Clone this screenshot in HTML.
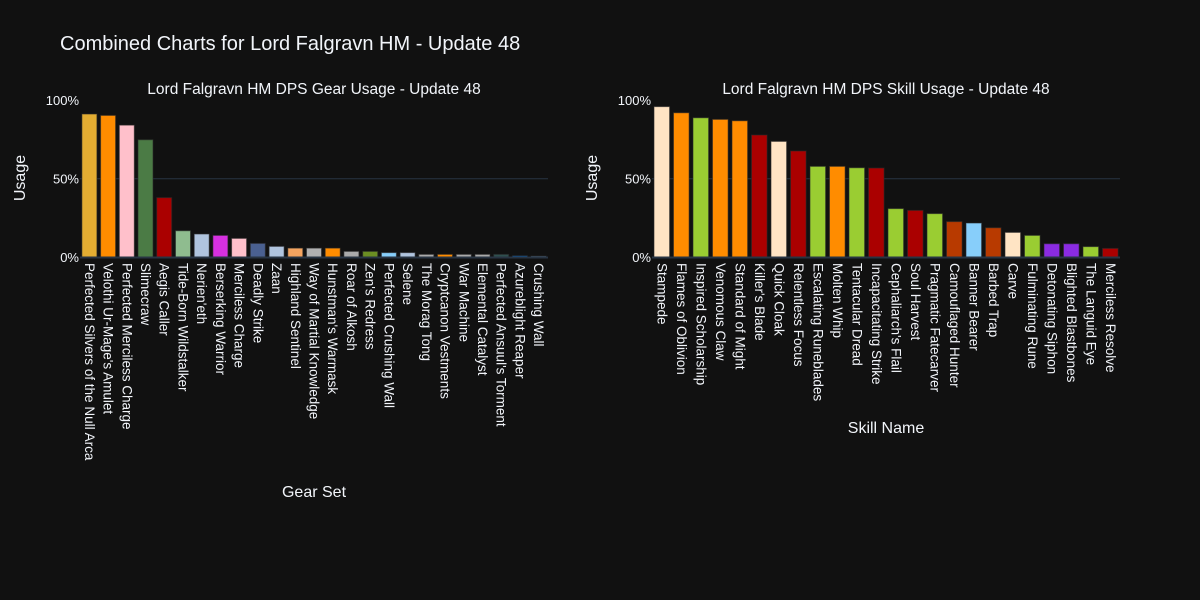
<!DOCTYPE html>
<html><head><meta charset="utf-8"><style>
html,body{margin:0;padding:0;background:#111111;}
svg{display:block;font-family:"Liberation Sans",sans-serif;}
</style></head><body>
<svg width="1200" height="600" viewBox="0 0 1200 600" xmlns="http://www.w3.org/2000/svg">
<rect width="1200" height="600" fill="#111111"/>
<text x="60" y="50" fill="#f2f5fa" font-size="20">Combined Charts for Lord Falgravn HM - Update 48</text>
<text x="314" y="94" fill="#f2f5fa" font-size="15.5" text-anchor="middle">Lord Falgravn HM DPS Gear Usage - Update 48</text>
<text x="886" y="94" fill="#f2f5fa" font-size="15.5" text-anchor="middle">Lord Falgravn HM DPS Skill Usage - Update 48</text>
<line x1="80" y1="178.7" x2="548" y2="178.7" stroke="#283442" stroke-width="1"/>
<line x1="652" y1="178.7" x2="1120" y2="178.7" stroke="#283442" stroke-width="1"/>
<g fill="#f2f5fa" font-size="13" text-anchor="end">
<text x="79" y="105">100%</text><text x="79" y="183.5">50%</text><text x="79" y="262">0%</text>
<text x="651" y="105">100%</text><text x="651" y="183.5">50%</text><text x="651" y="262">0%</text>
</g>
<text transform="translate(25,178) rotate(-90)" fill="#f2f5fa" font-size="16" text-anchor="middle">Usage</text>
<text transform="translate(597,178) rotate(-90)" fill="#f2f5fa" font-size="16" text-anchor="middle">Usage</text>
<text x="314" y="497" fill="#f2f5fa" font-size="16" text-anchor="middle">Gear Set</text>
<text x="886" y="433" fill="#f2f5fa" font-size="16" text-anchor="middle">Skill Name</text>
<g transform="translate(0,257) scale(1,-1.566)" stroke="#2a2a2a" stroke-width="1" stroke-opacity="0.6">
<rect vector-effect="non-scaling-stroke" x="81.9" y="0" width="15" height="91.3" fill="#E3AD32"/>
<rect vector-effect="non-scaling-stroke" x="100.6" y="0" width="15" height="90.4" fill="#FF8C00"/>
<rect vector-effect="non-scaling-stroke" x="119.3" y="0" width="15" height="84.2" fill="#FFC0CB"/>
<rect vector-effect="non-scaling-stroke" x="138.0" y="0" width="15" height="74.9" fill="#4B7B45"/>
<rect vector-effect="non-scaling-stroke" x="156.7" y="0" width="15" height="37.9" fill="#AA0000"/>
<rect vector-effect="non-scaling-stroke" x="175.5" y="0" width="15" height="16.8" fill="#8FBC8F"/>
<rect vector-effect="non-scaling-stroke" x="194.2" y="0" width="15" height="14.7" fill="#B0C4DE"/>
<rect vector-effect="non-scaling-stroke" x="212.9" y="0" width="15" height="13.8" fill="#D630E0"/>
<rect vector-effect="non-scaling-stroke" x="231.6" y="0" width="15" height="11.9" fill="#FFC0CB"/>
<rect vector-effect="non-scaling-stroke" x="250.3" y="0" width="15" height="8.7" fill="#4A6090"/>
<rect vector-effect="non-scaling-stroke" x="269.1" y="0" width="15" height="6.8" fill="#B0C4DE"/>
<rect vector-effect="non-scaling-stroke" x="287.8" y="0" width="15" height="5.7" fill="#F4A460"/>
<rect vector-effect="non-scaling-stroke" x="306.5" y="0" width="15" height="5.7" fill="#B0B0B0"/>
<rect vector-effect="non-scaling-stroke" x="325.2" y="0" width="15" height="5.7" fill="#FF8C00"/>
<rect vector-effect="non-scaling-stroke" x="343.9" y="0" width="15" height="3.6" fill="#AAAAAA"/>
<rect vector-effect="non-scaling-stroke" x="362.7" y="0" width="15" height="3.6" fill="#6B8E23"/>
<rect vector-effect="non-scaling-stroke" x="381.4" y="0" width="15" height="2.8" fill="#87CEFA"/>
<rect vector-effect="non-scaling-stroke" x="400.1" y="0" width="15" height="2.8" fill="#B0C4DE"/>
<rect vector-effect="non-scaling-stroke" x="418.8" y="0" width="15" height="1.7" fill="#AAAAAA"/>
<rect vector-effect="non-scaling-stroke" x="437.5" y="0" width="15" height="1.7" fill="#FF8C00"/>
<rect vector-effect="non-scaling-stroke" x="456.3" y="0" width="15" height="1.7" fill="#AAAAAA"/>
<rect vector-effect="non-scaling-stroke" x="475.0" y="0" width="15" height="1.7" fill="#AAAAAA"/>
<rect vector-effect="non-scaling-stroke" x="493.7" y="0" width="15" height="1.7" fill="#2F4F4F"/>
<rect vector-effect="non-scaling-stroke" x="512.4" y="0" width="15" height="0.8" fill="#0066CC"/>
<rect vector-effect="non-scaling-stroke" x="531.1" y="0" width="15" height="0.6" fill="#6E9AC8"/>
</g>
<g transform="translate(0,257) scale(1,-1.566)" stroke="#2a2a2a" stroke-width="1" stroke-opacity="0.6">
<rect vector-effect="non-scaling-stroke" x="654.0" y="0" width="15.6" height="96.0" fill="#FFE4C4"/>
<rect vector-effect="non-scaling-stroke" x="673.5" y="0" width="15.6" height="92.1" fill="#FF8C00"/>
<rect vector-effect="non-scaling-stroke" x="693.0" y="0" width="15.6" height="88.9" fill="#9ACD32"/>
<rect vector-effect="non-scaling-stroke" x="712.5" y="0" width="15.6" height="87.9" fill="#FF8C00"/>
<rect vector-effect="non-scaling-stroke" x="732.0" y="0" width="15.6" height="87.0" fill="#FF8C00"/>
<rect vector-effect="non-scaling-stroke" x="751.5" y="0" width="15.6" height="77.9" fill="#AA0000"/>
<rect vector-effect="non-scaling-stroke" x="771.0" y="0" width="15.6" height="73.8" fill="#FFE4C4"/>
<rect vector-effect="non-scaling-stroke" x="790.5" y="0" width="15.6" height="67.7" fill="#AA0000"/>
<rect vector-effect="non-scaling-stroke" x="810.0" y="0" width="15.6" height="57.9" fill="#9ACD32"/>
<rect vector-effect="non-scaling-stroke" x="829.5" y="0" width="15.6" height="57.9" fill="#FF8C00"/>
<rect vector-effect="non-scaling-stroke" x="849.0" y="0" width="15.6" height="57.0" fill="#9ACD32"/>
<rect vector-effect="non-scaling-stroke" x="868.5" y="0" width="15.6" height="56.8" fill="#AA0000"/>
<rect vector-effect="non-scaling-stroke" x="888.0" y="0" width="15.6" height="30.9" fill="#9ACD32"/>
<rect vector-effect="non-scaling-stroke" x="907.5" y="0" width="15.6" height="29.8" fill="#AA0000"/>
<rect vector-effect="non-scaling-stroke" x="927.0" y="0" width="15.6" height="27.7" fill="#9ACD32"/>
<rect vector-effect="non-scaling-stroke" x="946.5" y="0" width="15.6" height="22.6" fill="#B83A00"/>
<rect vector-effect="non-scaling-stroke" x="966.0" y="0" width="15.6" height="21.7" fill="#87CEFA"/>
<rect vector-effect="non-scaling-stroke" x="985.5" y="0" width="15.6" height="18.7" fill="#B83A00"/>
<rect vector-effect="non-scaling-stroke" x="1005.0" y="0" width="15.6" height="15.7" fill="#FFE4C4"/>
<rect vector-effect="non-scaling-stroke" x="1024.5" y="0" width="15.6" height="13.8" fill="#9ACD32"/>
<rect vector-effect="non-scaling-stroke" x="1044.0" y="0" width="15.6" height="8.5" fill="#8A2BE2"/>
<rect vector-effect="non-scaling-stroke" x="1063.5" y="0" width="15.6" height="8.5" fill="#8A2BE2"/>
<rect vector-effect="non-scaling-stroke" x="1083.0" y="0" width="15.6" height="6.6" fill="#9ACD32"/>
<rect vector-effect="non-scaling-stroke" x="1102.5" y="0" width="15.6" height="5.5" fill="#AA0000"/>
</g>
<line x1="80" y1="257.5" x2="548" y2="257.5" stroke="#283442" stroke-width="2"/>
<line x1="652" y1="257.5" x2="1120" y2="257.5" stroke="#283442" stroke-width="2"/>
<g fill="#f2f5fa" font-size="13.5" dominant-baseline="central">
<text transform="translate(89.4,263) rotate(90)">Perfected Silvers of the Null Arca</text>
<text transform="translate(108.1,263) rotate(90)">Velothi Ur-Mage's Amulet</text>
<text transform="translate(126.8,263) rotate(90)">Perfected Merciless Charge</text>
<text transform="translate(145.5,263) rotate(90)">Slimecraw</text>
<text transform="translate(164.2,263) rotate(90)">Aegis Caller</text>
<text transform="translate(183.0,263) rotate(90)">Tide-Born Wildstalker</text>
<text transform="translate(201.7,263) rotate(90)">Nerien'eth</text>
<text transform="translate(220.4,263) rotate(90)">Berserking Warrior</text>
<text transform="translate(239.1,263) rotate(90)">Merciless Charge</text>
<text transform="translate(257.8,263) rotate(90)">Deadly Strike</text>
<text transform="translate(276.6,263) rotate(90)">Zaan</text>
<text transform="translate(295.3,263) rotate(90)">Highland Sentinel</text>
<text transform="translate(314.0,263) rotate(90)">Way of Martial Knowledge</text>
<text transform="translate(332.7,263) rotate(90)">Hunstman's Warmask</text>
<text transform="translate(351.4,263) rotate(90)">Roar of Alkosh</text>
<text transform="translate(370.2,263) rotate(90)">Zen's Redress</text>
<text transform="translate(388.9,263) rotate(90)">Perfected Crushing Wall</text>
<text transform="translate(407.6,263) rotate(90)">Selene</text>
<text transform="translate(426.3,263) rotate(90)">The Morag Tong</text>
<text transform="translate(445.0,263) rotate(90)">Cryptcanon Vestments</text>
<text transform="translate(463.8,263) rotate(90)">War Machine</text>
<text transform="translate(482.5,263) rotate(90)">Elemental Catalyst</text>
<text transform="translate(501.2,263) rotate(90)">Perfected Ansuul's Torment</text>
<text transform="translate(519.9,263) rotate(90)">Azureblight Reaper</text>
<text transform="translate(538.6,263) rotate(90)">Crushing Wall</text>
</g>
<g fill="#f2f5fa" font-size="13.5" dominant-baseline="central">
<text transform="translate(661.8,263) rotate(90)">Stampede</text>
<text transform="translate(681.3,263) rotate(90)">Flames of Oblivion</text>
<text transform="translate(700.8,263) rotate(90)">Inspired Scholarship</text>
<text transform="translate(720.3,263) rotate(90)">Venomous Claw</text>
<text transform="translate(739.8,263) rotate(90)">Standard of Might</text>
<text transform="translate(759.3,263) rotate(90)">Killer's Blade</text>
<text transform="translate(778.8,263) rotate(90)">Quick Cloak</text>
<text transform="translate(798.3,263) rotate(90)">Relentless Focus</text>
<text transform="translate(817.8,263) rotate(90)">Escalating Runeblades</text>
<text transform="translate(837.3,263) rotate(90)">Molten Whip</text>
<text transform="translate(856.8,263) rotate(90)">Tentacular Dread</text>
<text transform="translate(876.3,263) rotate(90)">Incapacitating Strike</text>
<text transform="translate(895.8,263) rotate(90)">Cephaliarch's Flail</text>
<text transform="translate(915.3,263) rotate(90)">Soul Harvest</text>
<text transform="translate(934.8,263) rotate(90)">Pragmatic Fatecarver</text>
<text transform="translate(954.3,263) rotate(90)">Camouflaged Hunter</text>
<text transform="translate(973.8,263) rotate(90)">Banner Bearer</text>
<text transform="translate(993.3,263) rotate(90)">Barbed Trap</text>
<text transform="translate(1012.8,263) rotate(90)">Carve</text>
<text transform="translate(1032.3,263) rotate(90)">Fulminating Rune</text>
<text transform="translate(1051.8,263) rotate(90)">Detonating Siphon</text>
<text transform="translate(1071.3,263) rotate(90)">Blighted Blastbones</text>
<text transform="translate(1090.8,263) rotate(90)">The Languid Eye</text>
<text transform="translate(1110.3,263) rotate(90)">Merciless Resolve</text>
</g>
</svg>
</body></html>
